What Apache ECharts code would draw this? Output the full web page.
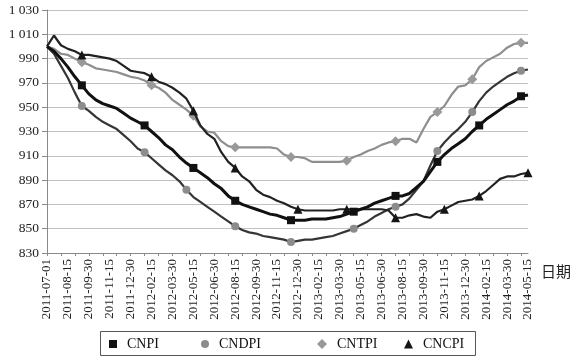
<!DOCTYPE html>
<html>
<head>
<meta charset="utf-8">
<script src="https://cdn.jsdelivr.net/npm/echarts@6/dist/echarts.min.js"></script>
<style>
html,body{margin:0;padding:0;background:#fff;}
#chart{width:585px;height:361px;}
</style>
</head>
<body>
<div id="chart"></div>
<script>
const dates = [
'2011-07-01','2011-07-15','2011-07-30','2011-08-15','2011-08-30','2011-09-15','2011-09-30','2011-10-15','2011-10-30','2011-11-15',
'2011-11-30','2011-12-15','2011-12-30','2012-01-15','2012-01-30','2012-02-15','2012-02-28','2012-03-15','2012-03-30','2012-04-15',
'2012-04-30','2012-05-15','2012-05-30','2012-06-15','2012-06-30','2012-07-15','2012-07-30','2012-08-15','2012-08-30','2012-09-15',
'2012-09-30','2012-10-15','2012-10-30','2012-11-15','2012-11-30','2012-12-15','2012-12-30','2013-01-15','2013-01-30','2013-02-15',
'2013-02-28','2013-03-15','2013-03-30','2013-04-15','2013-04-30','2013-05-15','2013-05-30','2013-06-15','2013-06-30','2013-07-15',
'2013-07-30','2013-08-15','2013-08-30','2013-09-15','2013-09-30','2013-10-15','2013-10-30','2013-11-15','2013-11-30','2013-12-15',
'2013-12-30','2014-01-15','2014-01-30','2014-02-15','2014-02-28','2014-03-15','2014-03-30','2014-04-15','2014-04-30','2014-05-15'
];

const CNPI = [1000,996,990,983,975,968,961,956,953,951,949,945,941,938,935,930,925,919,915,909,
904,900,896,892,887,883,877,873,870,868,866,864,862,861,859,857,857,857,858,858,
858,859,860,862,864,866,868,871,873,875,877,877,879,884,889,897,905,911,916,920,
924,930,935,940,944,948,952,955,959,960];

const CNDPI = [1000,994,984,974,962,951,947,942,938,935,932,927,922,916,913,908,903,898,894,889,
882,876,872,868,864,860,856,852,849,847,846,844,843,842,841,839,840,841,841,842,
843,844,846,848,850,853,856,860,863,866,868,870,875,882,889,902,914,921,927,932,
938,946,955,962,967,971,975,978,980,981];

const CNTPI = [1000,998,994,993,990,987,985,982,981,980,979,977,975,974,972,968,966,962,956,952,
948,943,934,930,929,922,918,917,917,917,917,917,917,916,911,909,909,908,905,905,
905,905,905,906,909,911,914,916,919,921,922,924,924,921,932,942,946,951,960,967,
968,973,983,988,991,994,999,1002,1003,1003];

const CNCPI = [1000,1009,1001,998,996,993,993,992,991,990,988,984,980,979,978,975,971,969,966,962,
957,947,935,928,924,913,905,900,893,889,882,878,876,873,871,868,866,865,865,865,
865,865,866,866,866,866,866,866,866,865,859,859,861,862,860,859,864,866,869,872,
873,874,877,881,886,891,893,893,895,896];

// indices where a marker is drawn
const markCNPI  = [5,14,21,27,35,44,50,56,62,68];
const markCNDPI = [5,14,20,27,35,44,50,56,61,68];
const markCNTPI = [5,15,21,27,35,43,50,56,61,68];
const markCNCPI = [5,15,21,27,36,43,50,57,62,69];

const seriesNames = ['CNPI','CNDPI','CNTPI','CNCPI'];
const yTickValues = [830,850,870,890,910,930,950,970,990,1010,1030];
const yTickLabels = ['830','850','870','890','910','930','950','970','990','1 010','1 030'];
const xAxisName = '日期';

const serif = '"Liberation Serif","Times New Roman",serif';

function withMarkers(vals, marks, sym) {
  return vals.map((v, i) => ({value: v, symbol: marks.indexOf(i) >= 0 ? sym : 'none'}));
}

const chart = echarts.init(document.getElementById('chart'), null, {renderer: 'canvas'});

function legendAt(name, left, icon, size) {
  return {
    data: [{name: name, icon: icon}],
    left: left, top: 337, padding: 0,
    itemWidth: size, itemHeight: size,
    textStyle: {fontFamily: serif, fontSize: 14, color: '#111', padding: [0,0,0,5]},
    selectedMode: false
  };
}

const option = {
  animation: false,
  backgroundColor: '#fff',
  grid: {left: 47, right: 57, top: 10, bottom: 108, containLabel: false},
  xAxis: {
    type: 'category',
    data: dates,
    boundaryGap: false,
    axisLine: {show: true, lineStyle: {color: '#8a8a8a', width: 1}},
    axisTick: {show: true, interval: 1, length: 3, lineStyle: {color: '#8a8a8a'}},
    axisLabel: {
      interval: 2, rotate: 90, margin: 6,
      fontFamily: serif, fontSize: 13, color: '#222'
    },
    splitLine: {show: false}
  },
  yAxis: {
    type: 'value',
    min: 830, max: 1030, interval: 20,
    axisLine: {show: true, lineStyle: {color: '#8a8a8a', width: 1}},
    axisTick: {show: true, length: 5, lineStyle: {color: '#8a8a8a'}},
    axisLabel: {
      margin: 8, fontFamily: serif, fontSize: 13.5, color: '#222',
      formatter: function (v) { const k = yTickValues.indexOf(v); return k >= 0 ? yTickLabels[k] : ''; }
    },
    splitLine: {show: true, lineStyle: {color: '#c2c2c2', width: 1}}
  },
  legend: [
    legendAt(seriesNames[0], 109, 'rect', 8),
    legendAt(seriesNames[1], 201, 'circle', 8),
    legendAt(seriesNames[2], 317, 'diamond', 10),
    legendAt(seriesNames[3], 404, 'triangle', 9)
  ],
  graphic: [
    {type: 'rect', shape: {x: 100.5, y: 331.5, width: 375, height: 24},
     style: {fill: 'none', stroke: '#555', lineWidth: 1}, silent: true},
    {type: 'text', left: 541, top: 264,
     style: {text: xAxisName, font: '15px "Noto Sans CJK SC", sans-serif', fill: '#222'}}
  ],
  series: [
    {
      name: seriesNames[1], type: 'line', data: withMarkers(CNDPI, markCNDPI, 'circle'),
      showSymbol: true, showAllSymbol: true, symbolSize: 8,
      lineStyle: {color: '#353535', width: 2.2},
      itemStyle: {color: '#8c8c8c'},
      emphasis: {disabled: true}, z: 2
    },
    {
      name: seriesNames[2], type: 'line', data: withMarkers(CNTPI, markCNTPI, 'diamond'),
      showSymbol: true, showAllSymbol: true, symbolSize: 10,
      lineStyle: {color: '#8e8e8e', width: 2.2},
      itemStyle: {color: '#999999'},
      emphasis: {disabled: true}, z: 2
    },
    {
      name: seriesNames[3], type: 'line', data: withMarkers(CNCPI, markCNCPI, 'triangle'),
      showSymbol: true, showAllSymbol: true, symbolSize: 9,
      lineStyle: {color: '#222', width: 2.2},
      itemStyle: {color: '#151515'},
      emphasis: {disabled: true}, z: 3
    },
    {
      name: seriesNames[0], type: 'line', data: withMarkers(CNPI, markCNPI, 'rect'),
      showSymbol: true, showAllSymbol: true, symbolSize: 8,
      lineStyle: {color: '#111', width: 3},
      itemStyle: {color: '#111'},
      emphasis: {disabled: true}, z: 4
    }
  ]
};
chart.setOption(option);
</script>
</body>
</html>
